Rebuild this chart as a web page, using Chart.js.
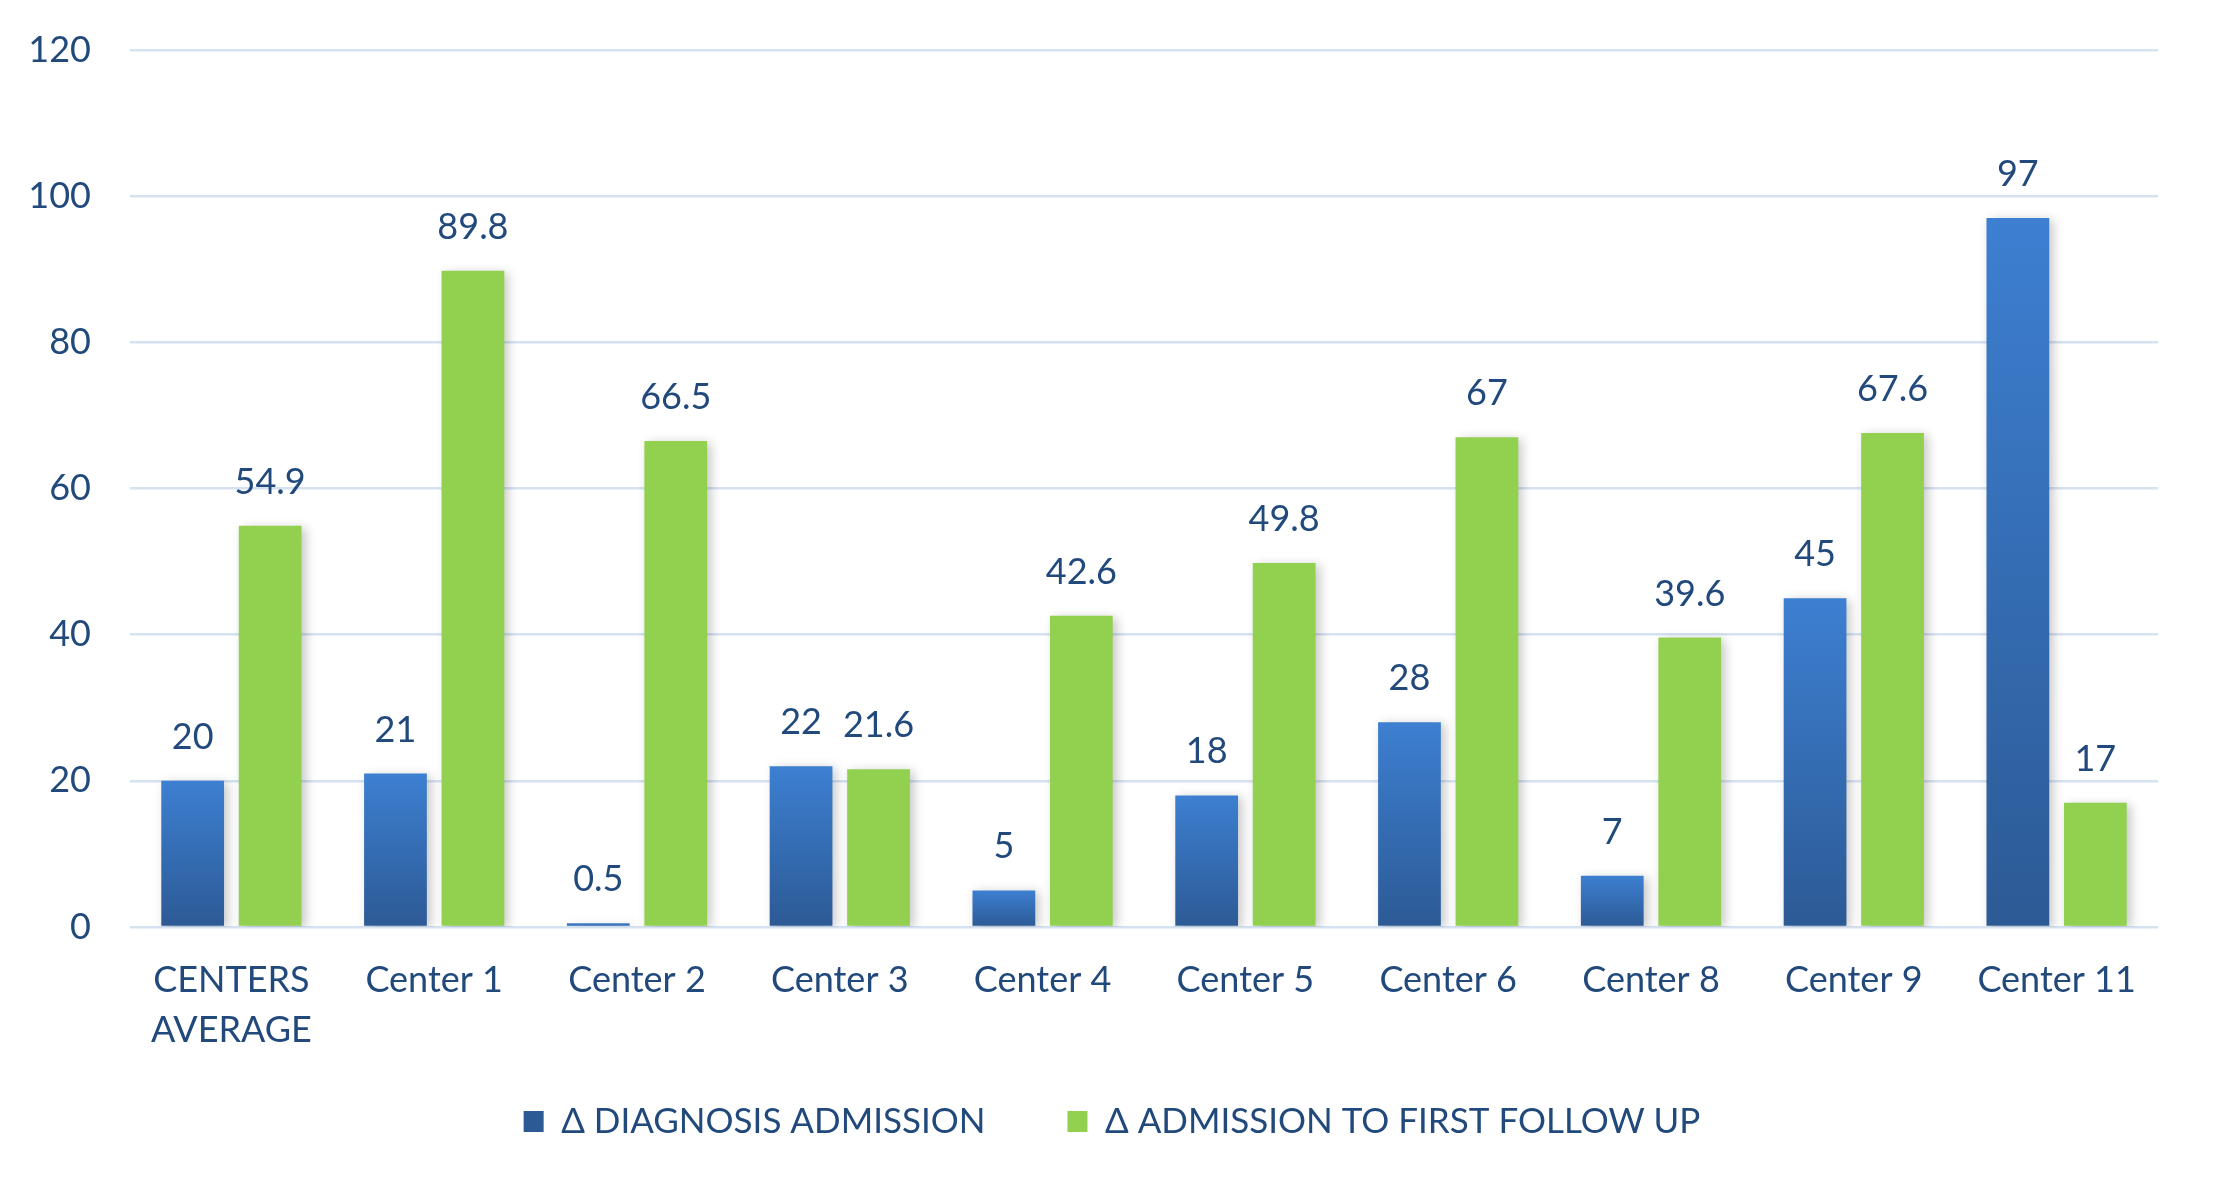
<!DOCTYPE html>
<html>
<head>
<meta charset="utf-8">
<script src="https://cdn.jsdelivr.net/npm/chart.js@4/dist/chart.umd.min.js"></script>
<style>
  html,body{margin:0;padding:0;background:#fff;}
  #wrap{width:2213px;height:1196px;position:relative;}
</style>
</head>
<body>
<div id="wrap"><canvas id="c" width="2213" height="1196"></canvas></div>
<script>
const categories = [["CENTERS","AVERAGE"],"Center 1","Center 2","Center 3","Center 4","Center 5","Center 6","Center 8","Center 9","Center 11"];
const diagnosisAdmission = [20,21,0.5,22,5,18,28,7,45,97];
const admissionFollowUp = [54.9,89.8,66.5,21.6,42.6,49.8,67,39.6,67.6,17];
const seriesNames = ["\u0394 DIAGNOSIS ADMISSION","\u0394 ADMISSION TO FIRST FOLLOW UP"];
const yTicks = [0,20,40,60,80,100,120];

const TEXT = '#21497c';
const FONT = 'Lato, "Open Sans", sans-serif';

function blueGradient(ctx){
  const chart = ctx.chart;
  const ca = chart.chartArea;
  if(!ca || ctx.dataIndex === undefined) return '#3470bb';
  const y = chart.scales.y;
  const v = ctx.dataset.data[ctx.dataIndex];
  const top = y.getPixelForValue(v), bot = y.getPixelForValue(0);
  if(!(bot - top > 1)) return '#3470bb';
  const g = chart.ctx.createLinearGradient(0, top, 0, bot);
  g.addColorStop(0, '#3d7fd1');
  g.addColorStop(1, '#2c5a95');
  return g;
}

const shadowPlugin = {
  id:'shadow',
  beforeDatasetDraw(chart){
    const c = chart.ctx; c.save();
    c.shadowColor='rgba(0,0,0,0.22)'; c.shadowBlur=10; c.shadowOffsetX=4; c.shadowOffsetY=2;
  },
  afterDatasetDraw(chart){ chart.ctx.restore(); }
};

const valueLabels = {
  id:'valueLabels',
  afterDatasetsDraw(chart){
    const c = chart.ctx;
    c.save();
    c.font = '36px ' + FONT;
    c.fillStyle = TEXT;
    c.textAlign = 'center';
    c.textBaseline = 'alphabetic';
    chart.data.datasets.forEach((ds, di)=>{
      const meta = chart.getDatasetMeta(di);
      meta.data.forEach((bar, i)=>{
        c.fillText(String(ds.data[i]), bar.x, bar.y - 32);
      });
    });
    c.restore();
  }
};

new Chart(document.getElementById('c'), {
  type:'bar',
  data:{
    labels: categories,
    datasets:[
      {label: seriesNames[0], data: diagnosisAdmission, backgroundColor: blueGradient, borderWidth:0},
      {label: seriesNames[1], data: admissionFollowUp, backgroundColor: '#92d050', borderWidth:0}
    ]
  },
  options:{
    responsive:false,
    animation:false,
    events:[],
    layout:{padding:{top:50,right:0,left:11,bottom:47}},
    datasets:{bar:{categoryPercentage:0.764, barPercentage:0.81}},
    scales:{
      x:{
        grid:{display:false},
        border:{display:false},
        ticks:{color:TEXT, font:{family:FONT, size:36, lineHeight:1.4}, padding:20, maxRotation:0, autoSkip:false},
        afterFit(s){ s.height = 130; s.paddingRight = 55; }
      },
      y:{
        min:0, max:120,
        afterBuildTicks(s){ s.ticks = yTicks.map(v=>({value:v})); },
        grid:{color:'#d5e2f2', lineWidth:2.5, drawTicks:false},
        border:{display:false},
        ticks:{color:TEXT, font:{family:FONT, size:36}, padding:39},
        afterFit(s){ s.width = 119; s.paddingTop = 20; s.paddingBottom = 20; }
      }
    },
    plugins:{
      legend:{
        position:'bottom',
        labels:{
          color:TEXT, font:{family:FONT, size:35}, boxWidth:20, boxHeight:21, padding:47,
          generateLabels(chart){
            const items = Chart.defaults.plugins.legend.labels.generateLabels(chart);
            if(items.length > 1) items[0].text = items[0].text + '\u2003\u2005';
            return items;
          }
        }
      },
      tooltip:{enabled:false}
    }
  },
  plugins:[shadowPlugin, valueLabels]
});
</script>
</body>
</html>
